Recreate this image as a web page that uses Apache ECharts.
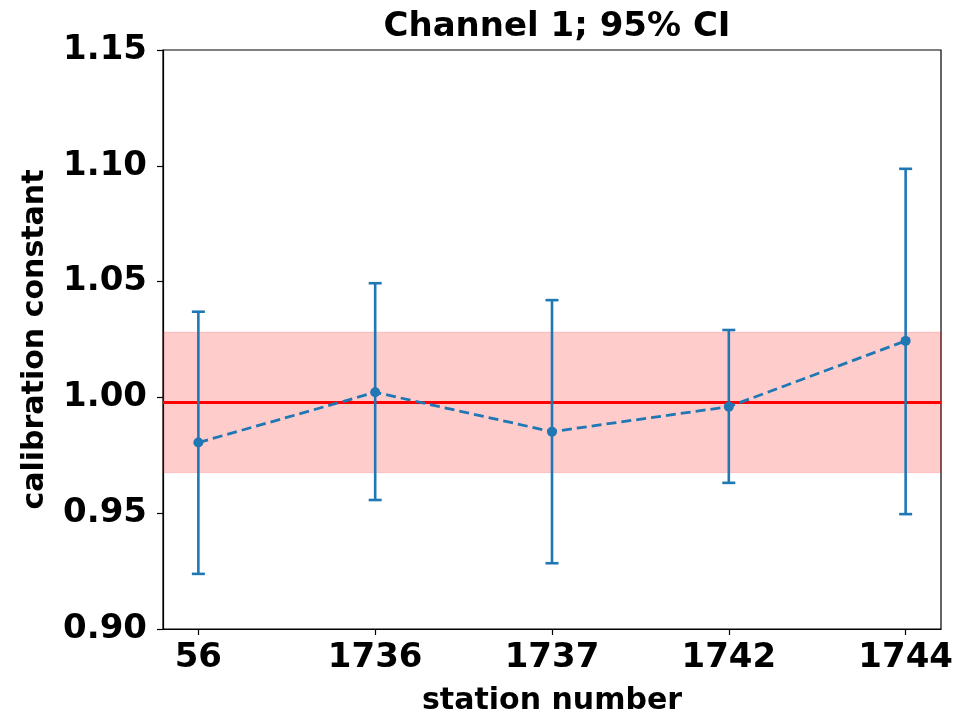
<!DOCTYPE html>
<html>
<head>
<meta charset="utf-8">
<script src="https://cdn.jsdelivr.net/npm/echarts@6/dist/echarts.min.js"></script>
<style>
html,body{margin:0;padding:0;background:#fff;}
#chart{width:964px;height:715px;}
</style>
</head>
<body>
<div id="chart"></div>
<script>
var stations = ['56', '1736', '1737', '1742', '1744'];
var values = [0.9805, 1.0022, 0.9852, 0.9960, 1.0244];
var lower = [0.9238, 0.9557, 0.9284, 0.9631, 0.9496];
var upper = [1.0370, 1.0493, 1.0420, 1.0291, 1.0987];
var meanValue = 0.9978;
var bandLow = 0.9675;
var bandHigh = 1.0282;
var yTicks = [0.90, 0.95, 1.00, 1.05, 1.10, 1.15];

var xMin = -0.2, xMax = stations.length - 1 + 0.2;
var idx = stations.map(function (s, i) { return i; });
var lineData = values.map(function (v, i) { return [i, v]; });
var errData = values.map(function (v, i) { return [i, lower[i], upper[i]]; });

var FONT = 'DejaVu Sans';
var BLUE = '#1f77b4';

var chart = echarts.init(document.getElementById('chart'), null, {renderer: 'canvas'});
chart.setOption({
  animation: false,
  backgroundColor: '#ffffff',
  title: {
    text: 'Channel 1; 95% CI',
    left: 552, top: 5, textAlign: 'center',
    textStyle: {fontFamily: FONT, fontWeight: 'bold', fontSize: 34, color: '#000'}
  },
  grid: {
    left: 163, right: 23, top: 50, bottom: 86,
    containLabel: false, outerBoundsMode: 'none',
    show: true, borderColor: '#000', borderWidth: 1.2, backgroundColor: 'transparent'
  },
  xAxis: {
    type: 'value', min: xMin, max: xMax,
    name: 'station number', nameLocation: 'middle', nameGap: 57,
    nameTextStyle: {fontFamily: FONT, fontWeight: 'bold', fontSize: 30, color: '#000'},
    axisLine: {show: true, onZero: false, lineStyle: {color: '#000', width: 1.2}},
    axisTick: {show: true, customValues: idx, length: 6, lineStyle: {color: '#000', width: 1.2}},
    axisLabel: {
      customValues: idx, margin: 12,
      fontFamily: FONT, fontWeight: 'bold', fontSize: 34, color: '#000',
      formatter: function (v) { return stations[Math.round(v)]; }
    },
    splitLine: {show: false}
  },
  yAxis: {
    type: 'value', min: yTicks[0], max: yTicks[yTicks.length - 1], interval: 0.05,
    name: 'calibration constant', nameLocation: 'middle', nameGap: 113, nameRotate: 90,
    nameTextStyle: {fontFamily: FONT, fontWeight: 'bold', fontSize: 30, color: '#000'},
    axisLine: {show: true, onZero: false, lineStyle: {color: '#000', width: 1.2}},
    axisTick: {show: true, length: 6, lineStyle: {color: '#000', width: 1.2}},
    axisLabel: {
      margin: 16,
      fontFamily: FONT, fontWeight: 'bold', fontSize: 34, color: '#000',
      formatter: function (v) { return v.toFixed(2); }
    },
    splitLine: {show: false}
  },
  series: [
    {
      type: 'line', name: 'mean',
      data: [[xMin, meanValue], [xMax, meanValue]],
      showSymbol: false, symbol: 'none',
      lineStyle: {color: '#ff0000', width: 2.8},
      z: 2,
      markArea: {
        silent: true,
        itemStyle: {color: 'rgba(255,0,0,0.2)', borderColor: 'rgba(255,0,0,0.12)', borderWidth: 1},
        data: [[{xAxis: xMin, yAxis: bandLow}, {xAxis: xMax, yAxis: bandHigh}]]
      }
    },
    {
      type: 'custom', name: 'err',
      data: errData,
      z: 3,
      renderItem: function (params, api) {
        var x = api.value(0);
        var lo = api.coord([x, api.value(1)]);
        var hi = api.coord([x, api.value(2)]);
        var hw = 6.5;
        var st = {stroke: BLUE, lineWidth: 2.6};
        return {
          type: 'group',
          children: [
            {type: 'line', shape: {x1: lo[0], y1: lo[1], x2: hi[0], y2: hi[1]}, style: st},
            {type: 'line', shape: {x1: lo[0] - hw, y1: lo[1], x2: lo[0] + hw, y2: lo[1]}, style: st},
            {type: 'line', shape: {x1: hi[0] - hw, y1: hi[1], x2: hi[0] + hw, y2: hi[1]}, style: st}
          ]
        };
      }
    },
    {
      type: 'line', name: 'values',
      data: lineData,
      symbol: 'circle', symbolSize: 10,
      itemStyle: {color: BLUE},
      lineStyle: {color: BLUE, width: 2.8, type: [10, 5]},
      z: 4
    }
  ]
});
</script>
</body>
</html>
